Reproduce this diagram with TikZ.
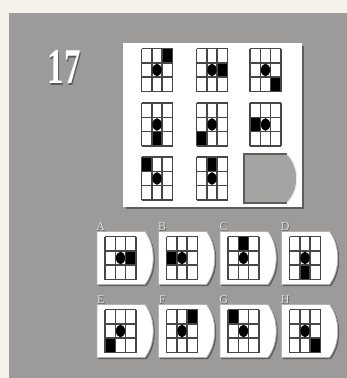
\documentclass[tikz,border=0pt]{standalone}
\usepackage{fontspec}
\setmainfont{Liberation Serif}
\usetikzlibrary{positioning}
\definecolor{BoardGray}{HTML}{9C9B99}
\definecolor{PaperCream}{HTML}{F4F2EA}
\definecolor{SlotGray}{HTML}{A4A4A2}
\definecolor{LineGray}{HTML}{474747}
\definecolor{ShadeGray}{HTML}{5C5C5C}
\tikzset{
  gridline/.style={draw=LineGray, line width=1.4pt},
  cardshape/.style={fill=white, draw=gray!60, line width=0.8pt},
  cardshade/.style={fill=ShadeGray},
  numtext/.style={font=\fontsize{50}{50}\selectfont\bfseries, inner sep=0pt},
  labeltext/.style={font=\fontsize{12}{12}\selectfont, inner sep=0pt}
}
\newcommand{\quizgrid}[4]{%
  \fill[black] ({#1+#3*31/3},{#2+#4*43/3}) rectangle ++(31/3,43/3);
  \foreach \k in {0,...,3}{
    \draw[gridline] ({#1+\k*31/3},#2) -- ({#1+\k*31/3},{#2+43});
    \draw[gridline] (#1,{#2+\k*43/3}) -- ({#1+31},{#2+\k*43/3});
  }
  \fill[black] ({#1+15.5},{#2+21.5}) ellipse [x radius=4.6, y radius=6.3];
}
\newcommand{\quizcard}[2]{%
  \fill[cardshade] ({#1+1.5},{#2+1.5}) -- ++(48,0)
    .. controls +(11,14) and +(11,-14) .. ++(0,53) -- ++(-48,0) -- cycle;
  \path[cardshape] (#1,#2) -- ++(48,0)
    .. controls +(11,14) and +(11,-14) .. ++(0,53) -- ++(-48,0) -- cycle;
}
\begin{document}
\begin{tikzpicture}[x=1pt, y=-1pt]
        \useasboundingbox (0,0) rectangle (347,378);
        \fill[PaperCream] (0,0) rectangle (347,378);
        \fill[BoardGray] (9,13) rectangle (347,378);

        \node[numtext, text=ShadeGray] (numshadow) at (65.5,68.5) {\scalebox{0.66}[1]{17}};
        \node[numtext, text=white] (num) at (64,67) {\scalebox{0.66}[1]{17}};

        \fill[ShadeGray] (125.5,45.5) rectangle (304,209);
        \fill[white] (123.3,43.3) rectangle (301.7,206.7);

        \foreach \gx/\gy/\sc/\sr in {141.5/48.5/2/0, 196.5/48.5/2/1, 250/48.5/2/2,
            141.5/103/1/2, 196.5/103/0/2, 250/103/0/1,
            141.5/157/0/0, 196.5/157/1/0}
          \quizgrid{\gx}{\gy}{\sc}{\sr};

        \fill[SlotGray] (244,154) -- ++(43,0)
          .. controls +(13,13) and +(13,-13) .. ++(0,49) -- ++(-43,0) -- cycle;
        \draw[ShadeGray, line width=1.6pt] (287,154) -- (244,154) -- (244,203) -- (287,203);
        \draw[white!85!gray, line width=1pt] (287,154)
          .. controls +(13,13) and +(13,-13) .. (287,203);

        \foreach \cx/\cy/\sc/\sr/\l in {97/231.5/2/1/A, 158.5/231.5/0/1/B, 220/231.5/1/0/C, 281.5/231.5/1/2/D,
            97/304.5/0/2/E, 158.5/304.5/2/0/F, 220/304.5/0/0/G, 281.5/304.5/2/2/H}{
          \quizcard{\cx}{\cy}
          \quizgrid{\cx+8}{\cy+5}{\sc}{\sr}
          \node[labeltext, text=ShadeGray] (shade\l) at ({\cx+4.5},{\cy-4}) {\l};
          \node[labeltext, text=white!88!black] (lab\l) at ({\cx+3.7},{\cy-4.8}) {\l};
        }
\end{tikzpicture}
\end{document}
